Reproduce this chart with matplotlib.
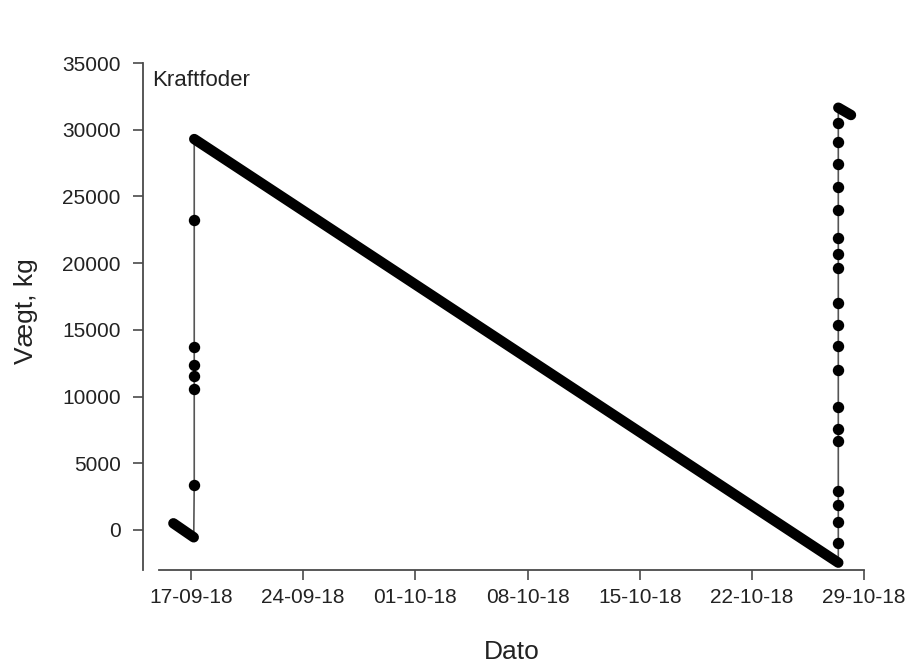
import numpy as np
import pandas as pd
import matplotlib
matplotlib.use("Agg")
import matplotlib.pyplot as plt
import matplotlib.dates as mdates

plt.rcParams['font.family'] = ['Liberation Sans', 'DejaVu Sans']

# ==========================================
# data
# ==========================================
# small decreasing run before the first refill
low_times = ["2018-09-15 21:30", "2018-09-17 04:00"]
low_vals = [500, -550]

# first refill (vertical run of points)
fill1_time = "2018-09-17 04:45"
fill1_vals = [3400, 10600, 11550, 12350, 13700, 23250]

# long consumption run
diag_times = ["2018-09-17 04:45", "2018-10-27 09:30"]
diag_vals = [29300, -2450]

# second refill
fill2_time = "2018-10-27 09:30"
fill2_vals = [-1000, 600, 1900, 2900, 6700, 7600, 9200, 12000, 13800, 15400,
              17000, 19600, 20700, 21900, 24000, 25700, 27400, 29100, 30500]

# short run after the second refill
top_times = ["2018-10-27 09:30", "2018-10-28 04:30"]
top_vals = [31650, 31100]

x_ticks = ["2018-09-17", "2018-09-24", "2018-10-01", "2018-10-08",
           "2018-10-15", "2018-10-22", "2018-10-29"]
y_ticks = [0, 5000, 10000, 15000, 20000, 25000, 30000, 35000]

TXT = "#222222"
AXC = "#4a4a4a"

# ==========================================
# plot
# ==========================================
fig = plt.figure(figsize=(9.1, 6.63), dpi=100)
ax = fig.add_axes([143 / 910, 93 / 663, 721 / 910, 507 / 663])

t_low = pd.to_datetime(low_times)
t_diag = pd.to_datetime(diag_times)
t_top = pd.to_datetime(top_times)
t_f1 = pd.to_datetime([fill1_time] * len(fill1_vals))
t_f2 = pd.to_datetime([fill2_time] * len(fill2_vals))

# thin connecting line through the whole series
all_t = list(t_low) + list(t_f1) + list(t_diag) + list(t_f2) + list(t_top)
all_v = low_vals + fill1_vals + diag_vals + fill2_vals + top_vals
ax.plot(all_t, all_v, color="#555555", lw=1.2, zorder=2)

# dense runs look like thick bands of overlapping dots
for tt, vv in [(t_low, low_vals), (t_diag, diag_vals), (t_top, top_vals)]:
    ax.plot(tt, vv, color="black", lw=7.5, solid_capstyle="round", zorder=3)

# single dots on the refill runs
ax.plot(t_f1, fill1_vals, "o", color="black", ms=7.2, zorder=4)
ax.plot(t_f2, fill2_vals, "o", color="black", ms=7.2, zorder=4)

ax.set_xlim(pd.Timestamp("2018-09-14"), pd.Timestamp("2018-10-29"))
ax.set_ylim(-3000, 35000)

ax.set_xticks(pd.to_datetime(x_ticks))
ax.xaxis.set_major_formatter(mdates.DateFormatter("%d-%m-%y"))
ax.set_yticks(y_ticks)

for s in ["top", "right"]:
    ax.spines[s].set_visible(False)
for s in ["left", "bottom"]:
    ax.spines[s].set_color(AXC)
    ax.spines[s].set_linewidth(1.3)
ax.spines["bottom"].set_bounds(mdates.date2num(pd.Timestamp("2018-09-15")),
                               mdates.date2num(pd.Timestamp("2018-10-29")))
ax.spines["left"].set_bounds(-3000, 35000)

ax.tick_params(axis="both", direction="out", length=7, width=1.2, color=AXC,
               labelsize=15, labelcolor=TXT)
ax.tick_params(axis="x", pad=6)
ax.tick_params(axis="y", pad=9)

ax.set_xlabel("Dato", fontsize=19, color=TXT, va="baseline")
ax.set_ylabel("Vægt, kg", fontsize=19, color=TXT, va="baseline")
ax.xaxis.set_label_coords(0.512, -0.1755)
ax.yaxis.set_label_coords(-0.153, 0.511)

ax.text(0.013, 0.955, "Kraftfoder", transform=ax.transAxes, fontsize=16,
        color=TXT, ha="left", va="baseline")

fig.savefig("out.png", dpi=100, facecolor="white")
